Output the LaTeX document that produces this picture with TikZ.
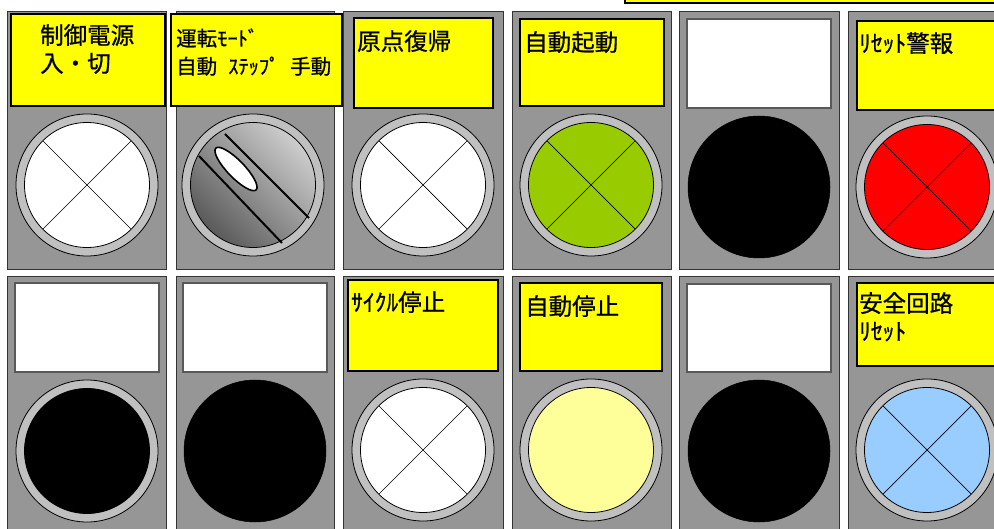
\documentclass[tikz,border=0pt]{standalone}
\usepackage{fontspec}
\newfontfamily\jp[FakeBold=0.8]{Noto Sans CJK JP}
\definecolor{panelgray}{RGB}{150,150,150}
\definecolor{ringgray}{RGB}{192,192,192}
\definecolor{lampgreen}{RGB}{153,204,0}
\definecolor{lampred}{RGB}{255,0,0}
\definecolor{lampyellow}{RGB}{255,255,153}
\definecolor{lampblue}{RGB}{153,204,255}
\definecolor{labelyellow}{RGB}{255,255,0}
\definecolor{knobdark}{RGB}{90,90,90}
\definecolor{knoblight}{RGB}{205,205,205}
\tikzset{
  panel/.style={fill=panelgray, draw=black!80, line width=1pt},
  ylabel/.style={fill=labelyellow, draw=black, line width=2.6pt},
  wlabel/.style={fill=white, draw=black!65, line width=1.5pt},
  lbl/.style={anchor=base west, inner sep=0pt, font=\jp\fontsize{23.5}{23.5}\selectfont},
  lblsmall/.style={anchor=base west, inner sep=0pt, font=\jp\fontsize{20.5}{20.5}\selectfont},
  ringfill/.style={fill=ringgray, draw=black, line width=0.8pt},
  lampface/.style={draw=black, line width=0.8pt},
  crossline/.style={draw=black, line width=0.7pt},
  blacklamp/.style={fill=black, draw=black, line width=0.5pt},
}
\newcommand\mylamp[3]{%
  \filldraw[ringfill] (#1,#2) circle[radius=71];
  \filldraw[lampface, fill=#3] (#1,#2) circle[radius=62.5];
}
\newcommand\mycross[2]{%
  \draw[crossline] (#1,#2) ++(-44.2,-44.2) -- ++(88.4,88.4);
  \draw[crossline] (#1,#2) ++(-44.2,44.2) -- ++(88.4,-88.4);
}
\begin{document}
\begin{tikzpicture}[x=1pt,y=-1pt]
\useasboundingbox (0,0) rectangle (994,529);
\clip (0,0) rectangle (994,529);
\fill[white] (0,0) rectangle (994,529);

% top-right partial label
\filldraw[ylabel, line width=2pt] (625,-20) rectangle (1010,3);

% ---------- top row panels ----------
\filldraw[panel] (7,12) rectangle (166,270);
\filldraw[panel] (176,12) rectangle (334,270);
\filldraw[panel] (343,12) rectangle (503,270);
\filldraw[panel] (512,12) rectangle (671,270);
\filldraw[panel] (679,12) rectangle (839,270);
\filldraw[panel] (848,12) rectangle (1010,270);

% ---------- bottom row panels ----------
\filldraw[panel] (7,277) rectangle (166,540);
\filldraw[panel] (176,277) rectangle (334,540);
\filldraw[panel] (343,277) rectangle (503,540);
\filldraw[panel] (512,277) rectangle (671,540);
\filldraw[panel] (679,277) rectangle (839,540);
\filldraw[panel] (848,277) rectangle (1010,540);

% ---------- label plates ----------
\filldraw[ylabel] (11,14) rectangle (165,106);
\filldraw[ylabel] (171,14) rectangle (342,106);
\filldraw[ylabel] (354,18) rectangle (493,108);
\filldraw[ylabel] (520,19) rectangle (664,106);
\filldraw[wlabel] (687,19) rectangle (831,108);
\filldraw[ylabel] (857,21) rectangle (1005,110);

\filldraw[wlabel] (15,283) rectangle (159,372);
\filldraw[wlabel] (183,283) rectangle (327,372);
\filldraw[ylabel] (348,280) rectangle (498,371);
\filldraw[ylabel] (520,283) rectangle (662,371);
\filldraw[wlabel] (687,284) rectangle (831,372);
\filldraw[ylabel] (857,283) rectangle (1005,366);

% ---------- texts ----------
\node[lbl] (t1a) at (40,44) {制御電源};
\node[lbl] (t1b) at (40,72) {入・切};
\node[lblsmall] (t2a) at (176,46) {運転ﾓｰﾄﾞ};
\node[lblsmall] (t2b) at (176,74) {自動};
\node[lblsmall] (t2c) at (228,74) {ｽﾃｯﾌﾟ};
\node[lblsmall] (t2d) at (290,74) {手動};
\node[lbl] (t3) at (357,50) {原点復帰};
\node[lbl] (t4) at (524,51) {自動起動};
\node[lbl] (t6) at (859,52) {ﾘｾｯﾄ警報};
\node[lbl] (b3) at (351,311) {ｻｲｸﾙ停止};
\node[lbl] (b4) at (525,315) {自動停止};
\node[lbl] (b6a) at (859,312) {安全回路};
\node[lbl] (b6b) at (859,340) {ﾘｾｯﾄ};

% ---------- top row lamps ----------
\mylamp{87}{185}{white}\mycross{87}{185}
% selector switch
\filldraw[ringfill] (253,185) circle[radius=71];
\shade[top color=knoblight, bottom color=knobdark, shading angle=-45] (253,185) circle[radius=62.5];
\draw[black, line width=0.8pt] (253,185) circle[radius=62.5];
\draw[black, line width=2pt] (199,156) -- (282,243);
\draw[black, line width=2pt] (225,134) -- (309,218);
\filldraw[fill=white, draw=black, line width=1.6pt, rotate around={-46:(236,169)}] (236,169) ellipse[x radius=29, y radius=8.5];
\mylamp{423}{185}{white}\mycross{423}{185}
\mylamp{591}{185}{lampgreen}\mycross{591}{185}
\filldraw[blacklamp] (759,187) circle[radius=71];
\mylamp{927}{187}{lampred}\mycross{927}{187}

% ---------- bottom row lamps ----------
\mylamp{87}{451}{black}
\filldraw[blacklamp] (255,451) circle[radius=71];
\mylamp{423}{450}{white}\mycross{423}{450}
\mylamp{591}{450}{lampyellow}
\filldraw[blacklamp] (759,451) circle[radius=71];
\mylamp{927}{450}{lampblue}\mycross{927}{450}
\end{tikzpicture}
\end{document}
